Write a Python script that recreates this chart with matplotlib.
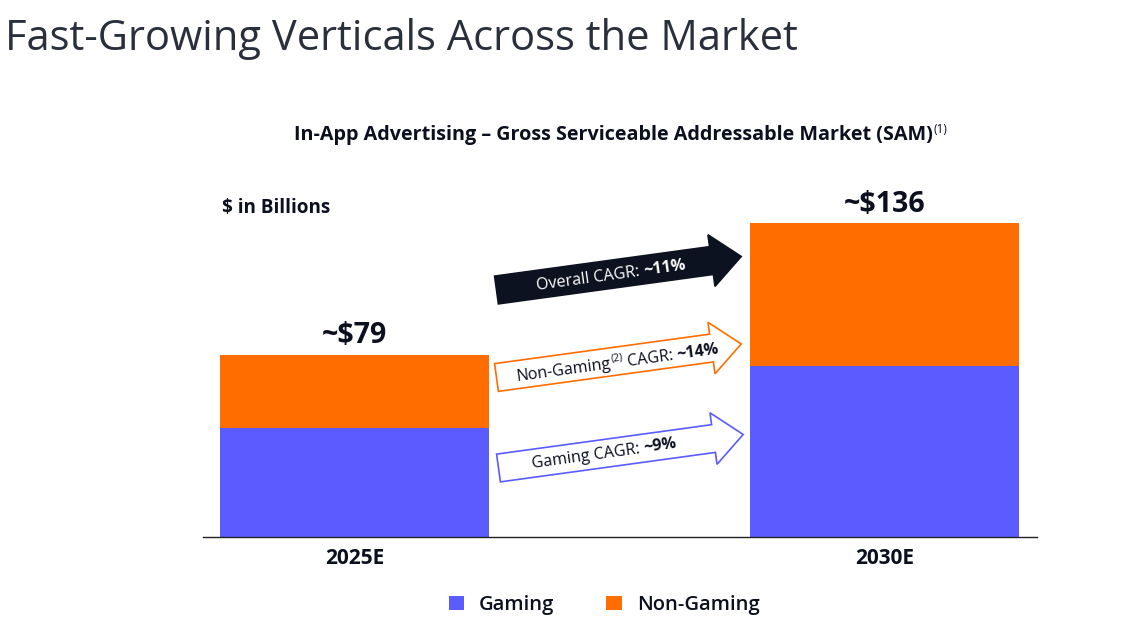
import math
import matplotlib
matplotlib.use("Agg")
import matplotlib.pyplot as plt
from matplotlib.patches import Polygon, Patch

plt.rcParams['font.family'] = ['Open Sans', 'DejaVu Sans']

# data
years = ['2025E', '2030E']
gaming = [47, 74]
non_gaming = [32, 62]
total_labels = ['~$79', '~$136']
cagr_overall = '~11%'
cagr_non_gaming = '~14%'
cagr_gaming = '~9%'

BLUE = '#5A5CFF'
ORANGE = '#FF6D00'
NAVY = '#0D1220'
INK = '#0B0F1E'
TITLE_C = '#2A2F3C'

fig = plt.figure(figsize=(11.36, 6.39), dpi=100)
W, H = 1136, 639

# main axes placed so that 1 px ~ data geometry of the slide
px_per_unit = 2.31
ax = fig.add_axes([203 / W, (H - 537) / H, (1037 - 203) / W, 392 / H])
x = [0, 1]
bw = 269 / 530
ax.bar(x, gaming, width=bw, color=BLUE, zorder=2)
ax.bar(x, non_gaming, width=bw, bottom=gaming, color=ORANGE, zorder=2)
ax.set_xlim((203 - 354.5) / 530, (1037 - 354.5) / 530)
ax.set_ylim(0, 392 / px_per_unit)
for s in ['top', 'right', 'left']:
    ax.spines[s].set_visible(False)
ax.spines['bottom'].set_color('#222222')
ax.spines['bottom'].set_linewidth(1.0)
ax.set_yticks([])
ax.set_xticks(x)
ax.set_xticklabels(years, fontsize=15, fontweight='bold', color=INK)
ax.tick_params(axis='x', length=0, pad=8)

for xi, g, n, lab in zip(x, gaming, non_gaming, total_labels):
    ax.annotate(lab, (xi, g + n), xytext=(0, 8), textcoords='offset points',
                ha='center', va='baseline', fontsize=20.5, fontweight='bold', color=INK)

# overlay in pixel coordinates for title, notes and arrows
ov = fig.add_axes([0, 0, 1, 1], facecolor='none')
ov.set_xlim(0, W)
ov.set_ylim(H, 0)
ov.axis('off')

renderer = fig.canvas.get_renderer()


def text_width(s, size, weight):
    t = ov.text(0, 0, s, fontsize=size, fontweight=weight)
    w = t.get_window_extent(renderer).width
    t.remove()
    return w


def rich_text(cx, cy, pieces, angle=0.0, color=INK):
    """pieces: (text, size, weight, rise_px, gap_after_px)"""
    a = math.radians(angle)
    u = (math.cos(a), -math.sin(a))
    nu = (-math.sin(a), -math.cos(a))  # up direction in y-down coords
    widths = [text_width(p[0], p[1], p[2]) for p in pieces]
    total = sum(widths) + sum(p[4] for p in pieces)
    d = -total / 2
    for (s, size, weight, rise, gap), w in zip(pieces, widths):
        px = cx + d * u[0] + rise * nu[0]
        py = cy + d * u[1] + rise * nu[1]
        ov.text(px, py, s, fontsize=size, fontweight=weight, color=color,
                rotation=angle, rotation_mode='anchor', ha='left', va='baseline')
        d += w + gap


def arrow(x0, y0, face, edge, angle=7.8, L=247, h=14, Hh=26, hl=30):
    a = math.radians(angle)
    u = (math.cos(a), -math.sin(a))
    n = (math.sin(a), math.cos(a))
    local = [(0, -h), (L - hl, -h), (L - hl, -Hh), (L, 0), (L - hl, Hh), (L - hl, h), (0, h)]
    pts = [(x0 + s * u[0] + t * n[0], y0 + s * u[1] + t * n[1]) for s, t in local]
    ov.add_patch(Polygon(pts, closed=True, facecolor=face, edgecolor=edge, linewidth=1.2))
    mid = (L - hl) / 2 + 4
    return x0 + mid * u[0], y0 + mid * u[1]


ov.text(5, 50, 'Fast-Growing Verticals Across the Market', fontsize=30,
        color=TITLE_C, ha='left', va='baseline')

rich_text(621, 140, [('In-App Advertising \u2013 Gross Serviceable Addressable Market (SAM)', 14.2, 'bold', 0, 1),
                     ('(1)', 8.5, 'normal', 7, 0)])

ov.text(222, 213, '$ in Billions', fontsize=13.6, fontweight='bold', color=INK,
        ha='left', va='baseline')

ang = 7.8
fs = 11.6
cx, cy = arrow(496.5, 290, NAVY, NAVY, angle=ang)
rich_text(cx + 4, cy + 5, [('Overall CAGR:', fs, 'normal', 0, 4),
                           (cagr_overall, fs, 'bold', 0, 0)], angle=ang, color='white')

cx, cy = arrow(496.5, 377.5, 'white', ORANGE, angle=ang)
rich_text(cx + 10, cy + 5, [('Non-Gaming', fs, 'normal', 0, 1),
                            ('(2)', 7.5, 'normal', 6.5, 4),
                            ('CAGR:', fs, 'normal', 0, 4),
                            (cagr_non_gaming, fs, 'bold', 0, 0)], angle=ang, color=INK)

cx, cy = arrow(498.5, 468, 'white', BLUE, angle=ang)
rich_text(cx - 5, cy + 5, [('Gaming CAGR:', fs, 'normal', 0, 4),
                           (cagr_gaming, fs, 'bold', 0, 0)], angle=ang, color=INK)

handles = [Patch(facecolor=BLUE, label='Gaming'), Patch(facecolor=ORANGE, label='Non-Gaming')]
fig.legend(handles=handles, loc='center', bbox_to_anchor=(604 / W, (H - 605) / H), ncol=2,
           frameon=False, prop={'size': 14.5, 'weight': 'semibold'}, handlelength=0.75,
           handleheight=0.75, handletextpad=0.75, columnspacing=2.6, labelcolor=INK)

fig.savefig('out.png', dpi=100, facecolor='white')
